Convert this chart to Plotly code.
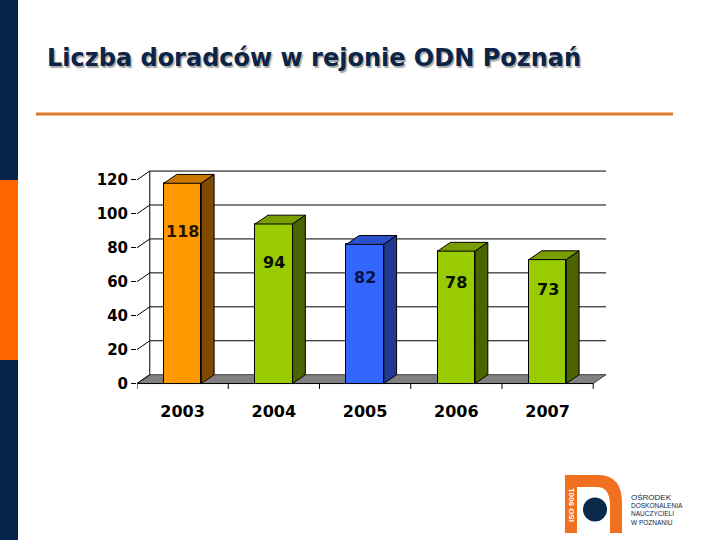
import plotly.graph_objects as go

# ---- data ----
years = ["2003", "2004", "2005", "2006", "2007"]
values = [118, 94, 82, 78, 73]
front_colors = ["#ff9900", "#99cc00", "#3366ff", "#99cc00", "#99cc00"]
top_colors = ["#c97800", "#789e00", "#2a50cc", "#789e00", "#789e00"]
side_colors = ["#7f4a00", "#4a6400", "#1f3a90", "#4a6400", "#4a6400"]
label_colors = ["#2a1400", "#0a0f00", "#0a1040", "#0a0f00", "#0a0f00"]
y_ticks = [0, 20, 40, 60, 80, 100, 120]
title = "Liczba doradców w rejonie ODN Poznań"

# ---- geometry (3D offsets in data units) ----
DX = 0.14
DY = 5.2
BW = 0.41
FONT = "DejaVu Sans"

ML, MR, MT, MB = 137, 114, 168, 148
PW, PH = 720 - ML - MR, 540 - MT - MB


def px2x(px):
    return (px - ML) / PW


def py2y(py):
    return (540 - MB - py) / PH


x_idx = list(range(len(years)))
fig = go.Figure()
fig.add_trace(go.Bar(
    x=x_idx, y=values, width=BW,
    marker=dict(color=front_colors, line=dict(color="black", width=1)),
    hoverinfo="skip", showlegend=False,
))

shapes = []
n = len(years)
# floor
shapes.append(dict(type="path", xref="x", yref="y", layer="below",
                   path=f"M {-0.5},0 L {n-0.5},0 L {n-0.5+DX},{DY} L {-0.5+DX},{DY} Z",
                   fillcolor="#808080", line=dict(color="#404040", width=1)))
# back wall gridlines + left diagonals
for t in y_ticks:
    if t > 0:
        shapes.append(dict(type="line", xref="x", yref="y", layer="below",
                           x0=-0.5 + DX, x1=n - 0.5 + DX, y0=t + DY, y1=t + DY,
                           line=dict(color="black", width=1)))
    shapes.append(dict(type="line", xref="x", yref="y", layer="below",
                       x0=-0.5, x1=-0.5 + DX, y0=t, y1=t + DY,
                       line=dict(color="black", width=1)))
shapes.append(dict(type="line", xref="x", yref="y", layer="below",
                   x0=-0.5 + DX, x1=-0.5 + DX, y0=DY, y1=max(y_ticks) + DY,
                   line=dict(color="black", width=1)))
# front x axis line and tick marks
shapes.append(dict(type="line", xref="x", yref="y", layer="above",
                   x0=-0.5, x1=n - 0.5, y0=0, y1=0, line=dict(color="black", width=1)))
for k in range(n + 1):
    shapes.append(dict(type="line", xref="x", yref="y", layer="above",
                       x0=k - 0.5, x1=k - 0.5, y0=0, y1=-3.2,
                       line=dict(color="black", width=1)))
# bar tops and sides
for i, v in enumerate(values):
    x0, x1 = i - BW / 2, i + BW / 2
    shapes.append(dict(type="path", xref="x", yref="y", layer="above",
                       path=f"M {x0},{v} L {x1},{v} L {x1+DX},{v+DY} L {x0+DX},{v+DY} Z",
                       fillcolor=top_colors[i], line=dict(color="black", width=1)))
    shapes.append(dict(type="path", xref="x", yref="y", layer="above",
                       path=f"M {x1},0 L {x1+DX},{DY} L {x1+DX},{v+DY} L {x1},{v} Z",
                       fillcolor=side_colors[i], line=dict(color="black", width=1)))

annotations = []
for i, v in enumerate(values):
    annotations.append(dict(x=i, y=v * 0.76, xref="x", yref="y", text=f"<b>{v}</b>",
                            showarrow=False, font=dict(family=FONT, size=16, color=label_colors[i])))

# ---- slide decorations ----
def rect_px(x0, y0, x1, y1, color):
    return dict(type="rect", xref="paper", yref="paper", layer="below",
                x0=px2x(x0), x1=px2x(x1), y0=py2y(y1), y1=py2y(y0),
                fillcolor=color, line=dict(width=0))


shapes.append(rect_px(0, 0, 18, 540, "#04244a"))
shapes.append(rect_px(0, 180, 18, 360, "#ff6600"))
shapes.append(rect_px(36, 112.5, 673, 115.5, "#e0782a"))

# logo
def P(px, py):
    return f"{px2x(px)},{py2y(py)}"


logo_path = (f"M {P(565,475)} L {P(600,475)} Q {P(622,476)} {P(622,503)} L {P(622,533)} "
             f"L {P(610,533)} L {P(610,503)} Q {P(609,487)} {P(597,487)} L {P(577,487)} "
             f"L {P(577,533)} L {P(565,533)} Z")
shapes.append(dict(type="path", xref="paper", yref="paper", path=logo_path, layer="below",
                   fillcolor="#f07020", line=dict(width=0)))
shapes.append(dict(type="circle", xref="paper", yref="paper", layer="below",
                   x0=px2x(583), x1=px2x(607), y0=py2y(521.5), y1=py2y(497.5),
                   fillcolor="#0a2848", line=dict(width=0)))
annotations.append(dict(xref="paper", yref="paper", x=px2x(571), y=py2y(505), text="<b>ISO 9001</b>",
                        textangle=-90, showarrow=False, xanchor="center", yanchor="middle",
                        font=dict(family="Liberation Sans", size=8, color="white")))
logo_lines = [("OŚRODEK", 8, 497), ("DOSKONALENIA", 6.5, 505.5),
              ("NAUCZYCIELI", 6.5, 513.5), ("W POZNANIU", 6.5, 522)]
for txt, sz, yy in logo_lines:
    annotations.append(dict(xref="paper", yref="paper", x=px2x(629), y=py2y(yy), text=txt,
                            xanchor="left", yanchor="middle", showarrow=False,
                            font=dict(family="Liberation Sans", size=sz, color="#0a2848")))

# title with shadow
annotations.append(dict(xref="paper", yref="paper", x=px2x(45), y=py2y(58), text=f"<b>{title}</b>",
                        xanchor="left", yanchor="middle", showarrow=False,
                        font=dict(family=FONT, size=24, color="#0b2447",
                                  shadow="1.5px 1.5px 1px #a8a8a8")))

fig.update_layout(
    width=720, height=540, autosize=False,
    margin=dict(l=ML, r=MR, t=MT, b=MB, pad=0),
    paper_bgcolor="white", plot_bgcolor="rgba(0,0,0,0)",
    shapes=shapes, annotations=annotations, bargap=0,
    xaxis=dict(range=[-0.5, n - 0.5 + DX], tickvals=x_idx, ticktext=[f"<b>{y}</b>" for y in years],
               showgrid=False, zeroline=False, showline=False,
               ticks="outside", ticklen=5, tickcolor="rgba(0,0,0,0)",
               tickfont=dict(family=FONT, size=16, color="black"), fixedrange=True),
    yaxis=dict(range=[-5, 127], tickvals=y_ticks, ticktext=[f"<b>{t}</b>" for t in y_ticks],
               showgrid=False, zeroline=False,
               showline=False, ticks="outside", ticklen=5, tickcolor="black",
               tickfont=dict(family=FONT, size=15, color="black"), fixedrange=True),
)

fig.write_html("out.html")
